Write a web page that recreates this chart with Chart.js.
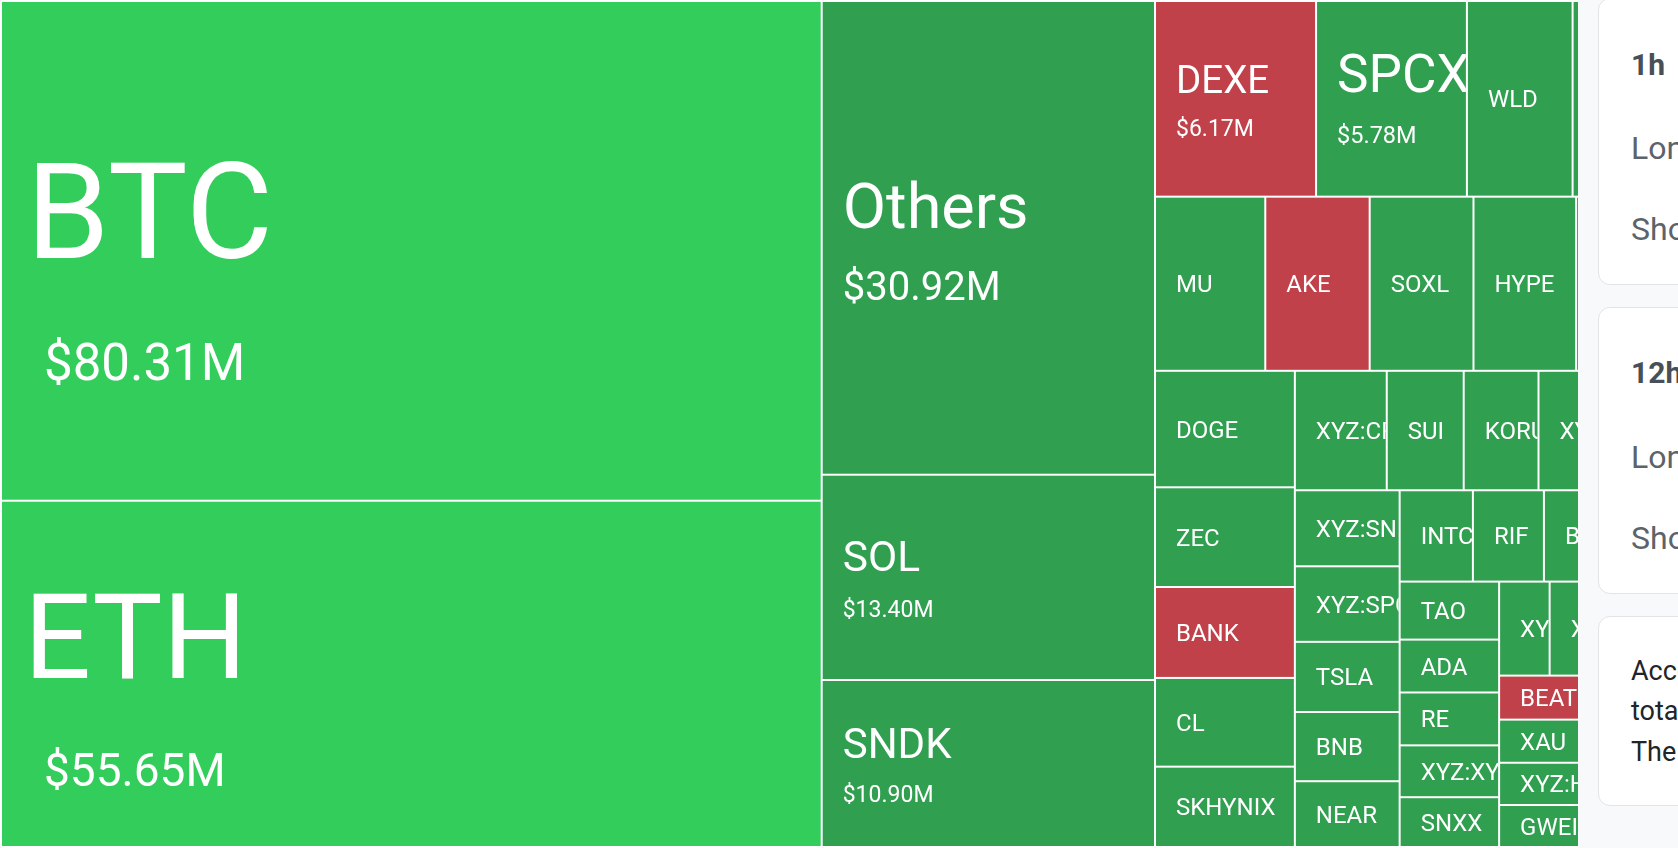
<!DOCTYPE html>
<html>
<head>
<meta charset="utf-8">
<script src="https://cdn.jsdelivr.net/npm/chart.js@4.4.1/dist/chart.umd.min.js"></script>
<style>
html,body{margin:0;padding:0;width:1678px;height:848px;overflow:hidden;background:#ffffff;}
#wrap{position:absolute;left:0;top:0;width:1678px;height:848px;}
#panel{position:absolute;left:1578px;top:0;width:100px;height:848px;background:#f8f9fa;overflow:hidden;font-family:Roboto,"Noto Sans",sans-serif;}
.card{position:absolute;left:20px;width:420px;background:#ffffff;border:1px solid #e2e4e7;border-radius:12px;box-sizing:border-box;}
.txt{position:absolute;left:53px;white-space:nowrap;line-height:1;}
.head{font-size:30px;font-weight:700;color:#484f56;}
.row{font-size:32px;color:#5c636a;}
.para{font-size:27px;color:#212529;}
</style>
</head>
<body>
<div id="wrap"><canvas id="c" width="1678" height="848"></canvas></div>
<div id="panel">
  <div class="card" style="top:-2px;height:287px;"></div>
  <div class="card" style="top:307px;height:287px;"></div>
  <div class="card" style="top:616px;height:190px;"></div>
  <div class="txt head" style="top:50px;">1h</div>
  <div class="txt row" style="top:132px;">Long</div>
  <div class="txt row" style="top:213px;">Short</div>
  <div class="txt head" style="top:358px;">12h</div>
  <div class="txt row" style="top:441px;">Long</div>
  <div class="txt row" style="top:522px;">Short</div>
  <div class="txt para" style="top:658px;">According to the data, in the past 24 hours,</div>
  <div class="txt para" style="top:698px;">total liquidations came to</div>
  <div class="txt para" style="top:739px;">The largest single liquidation</div>
</div>
<script>
// ---- data (values in $M; hidden cells estimated from visible slivers) ----
const names = ["BTC","ETH","Others","SOL","SNDK","DEXE","SPCX","WLD","XRP","MU","AKE","SOXL","HYPE","LINK",
  "DOGE","ZEC","BANK","CL","SKHYNIX","XYZ:CRCL","SUI","KORU","XYZ:NVDA","PUMP","XYZ:SNDK","XYZ:SPCX","TSLA","BNB","NEAR",
  "INTC","RIF","BCH","ENA","TAO","ADA","RE","XYZ:XYZ100","SNXX","XYZ:GOLD","XPL","LTC","AVAX",
  "BEAT","XAU","XYZ:HOOD","GWEI","FARTCOIN","ASTER","PEPE","WIF","LINEA","ARB","OP","TRUMP"];
const values = [80.31,55.65,30.92,13.40,10.90,6.17,5.78,4.05,4.00,3.76,3.56,3.54,3.50,3.44,
  3.19,2.73,2.49,2.43,2.20,2.15,1.80,1.75,1.65,1.59,1.56,1.55,1.44,1.42,1.35,
  1.31,1.27,1.21,1.17,1.13,1.03,1.03,1.01,0.97,0.93,0.80,0.78,0.765,
  0.76,0.745,0.73,0.725,0.55,0.50,0.45,0.40,0.36,0.30,0.25,0.20];
const sentiment = ["strong","strong","long","long","long","short","long","long","long","long","short","long","long","long",
  "long","long","short","long","long","long","long","long","long","long","long","long","long","long","long",
  "long","long","long","long","long","long","long","long","long","long","long","long","long",
  "short","long","long","long","long","long","long","long","long","long","long","long"];

// ---- styles ----
const colors = {strong:"#32cd5b", long:"#309f50", short:"#c0414a"};
const nameSize = {BTC:134, ETH:118, Others:63, SOL:42.5, SNDK:42, DEXE:38.5, SPCX:53};
const valueSize = {BTC:51, ETH:46, Others:40, SOL:23, SNDK:23, DEXE:23, SPCX:23.5};
const nameDx = {BTC:4, ETH:2};
const valueDx = {BTC:22, ETH:22};
const FONT = "Roboto, 'Noto Sans', sans-serif";

function fmt(v){ return "$" + v.toFixed(2) + "M"; }

// squarified layout (same rules as ECharts treemap, ratio = golden)
function squarify(vals, rect, ratio){
  const total = vals.reduce((a,b)=>a+b,0);
  const area = rect.w*rect.h;
  const items = vals.map((v,i)=>({i:i, a:v/total*area})).sort((p,q)=>q.a-p.a);
  const out = new Array(vals.length);
  const r = {x:rect.x, y:rect.y, w:rect.w, h:rect.h};
  let row = [], rowArea = 0, best = Infinity, fixed = Math.min(r.w, r.h);
  function worst(L){
    let mx = 0, mn = Infinity;
    for (const it of row){ if (it.a>mx) mx = it.a; if (it.a<mn) mn = it.a; }
    const s2 = rowArea*rowArea, f = L*L*ratio;
    return s2 ? Math.max(f*mx/s2, s2/(f*mn)) : Infinity;
  }
  function position(L, flush){
    const horiz = (L === r.w);
    let other = L ? rowArea/L : 0;
    const avail = horiz ? r.h : r.w;
    if (flush || other > avail) other = avail;
    let last = horiz ? r.x : r.y;
    const end = horiz ? r.x + r.w : r.y + r.h;
    row.forEach((it,k)=>{
      const step = other ? it.a/other : 0;
      const remain = end - last;
      const len = (k === row.length-1 || remain < step) ? remain : step;
      out[it.i] = horiz ? {x:last, y:r.y, w:len, h:other} : {x:r.x, y:last, w:other, h:len};
      last += len;
    });
    if (horiz){ r.y += other; r.h -= other; } else { r.x += other; r.w -= other; }
  }
  for (let k=0; k<items.length;){
    const it = items[k];
    row.push(it); rowArea += it.a;
    const sc = worst(fixed);
    if (sc <= best){ k++; best = sc; }
    else {
      row.pop(); rowArea -= it.a;
      position(fixed, false);
      fixed = Math.min(r.w, r.h);
      row = []; rowArea = 0; best = Infinity;
    }
  }
  if (row.length) position(fixed, true);
  return out;
}

const treemapPlugin = {
  id: "treemapCells",
  afterDatasetsDraw(chart){
    const ctx = chart.ctx;
    const xs = chart.scales.x, ys = chart.scales.y;
    const x0 = xs.getPixelForValue(0), x1 = xs.getPixelForValue(1);
    const y0 = ys.getPixelForValue(1), y1 = ys.getPixelForValue(0);
    const rect = {x:x0+1, y:y0+1, w:(x1-x0)-2, h:(y1-y0)-2};
    const cells = squarify(values, rect, 0.5*(1+Math.sqrt(5)));
    ctx.save();
    ctx.fillStyle = "#ffffff";
    ctx.fillRect(x0, y0, x1-x0, y1-y0);
    cells.forEach((c,i)=>{
      const nx = c.x+1, ny = c.y+1, nw = c.w-2, nh = c.h-2;
      if (nw <= 0 || nh <= 0) return;
      ctx.fillStyle = colors[sentiment[i]];
      ctx.fillRect(nx, ny, nw, nh);
      const name = names[i];
      const N = nameSize[name] || 24, V = valueSize[name];
      ctx.save();
      ctx.beginPath(); ctx.rect(nx, ny, nw, nh); ctx.clip();
      ctx.fillStyle = "#ffffff";
      ctx.textAlign = "left"; ctx.textBaseline = "alphabetic";
      const tx = nx + 20, cy = ny + nh/2;
      if (V){
        const d = 0.9*N + 0.6*V;
        const off = Math.max(5, 0.38*N - 16);
        const nameC = cy + off - d/2, valC = cy + off + d/2;
        ctx.font = N + "px " + FONT;
        ctx.fillText(name, tx + (nameDx[name]||0), nameC + 0.3555*N);
        ctx.font = V + "px " + FONT;
        ctx.fillText(fmt(values[i]), tx + (valueDx[name]||0), valC + 0.3555*V);
      } else {
        ctx.font = N + "px " + FONT;
        ctx.fillText(name, tx, cy + 0.3555*N);
      }
      ctx.restore();
    });
    ctx.restore();
  }
};

function build(){
  new Chart(document.getElementById("c"), {
    type: "scatter",
    data: { labels: names, datasets: [{ data: [] }] },
    options: {
      responsive: false,
      animation: false,
      layout: { padding: 0 },
      plugins: { legend: { display: false }, tooltip: { enabled: false } },
      scales: {
        x: { type: "linear", min: 0, max: 1, display: false },
        y: { type: "linear", min: 0, max: 1, display: false }
      }
    },
    plugins: [treemapPlugin]
  });
}
if (document.fonts && document.fonts.load){
  Promise.all([document.fonts.load("24px Roboto"), document.fonts.load("134px Roboto")]).then(build, build);
} else { build(); }
</script>
</body>
</html>
